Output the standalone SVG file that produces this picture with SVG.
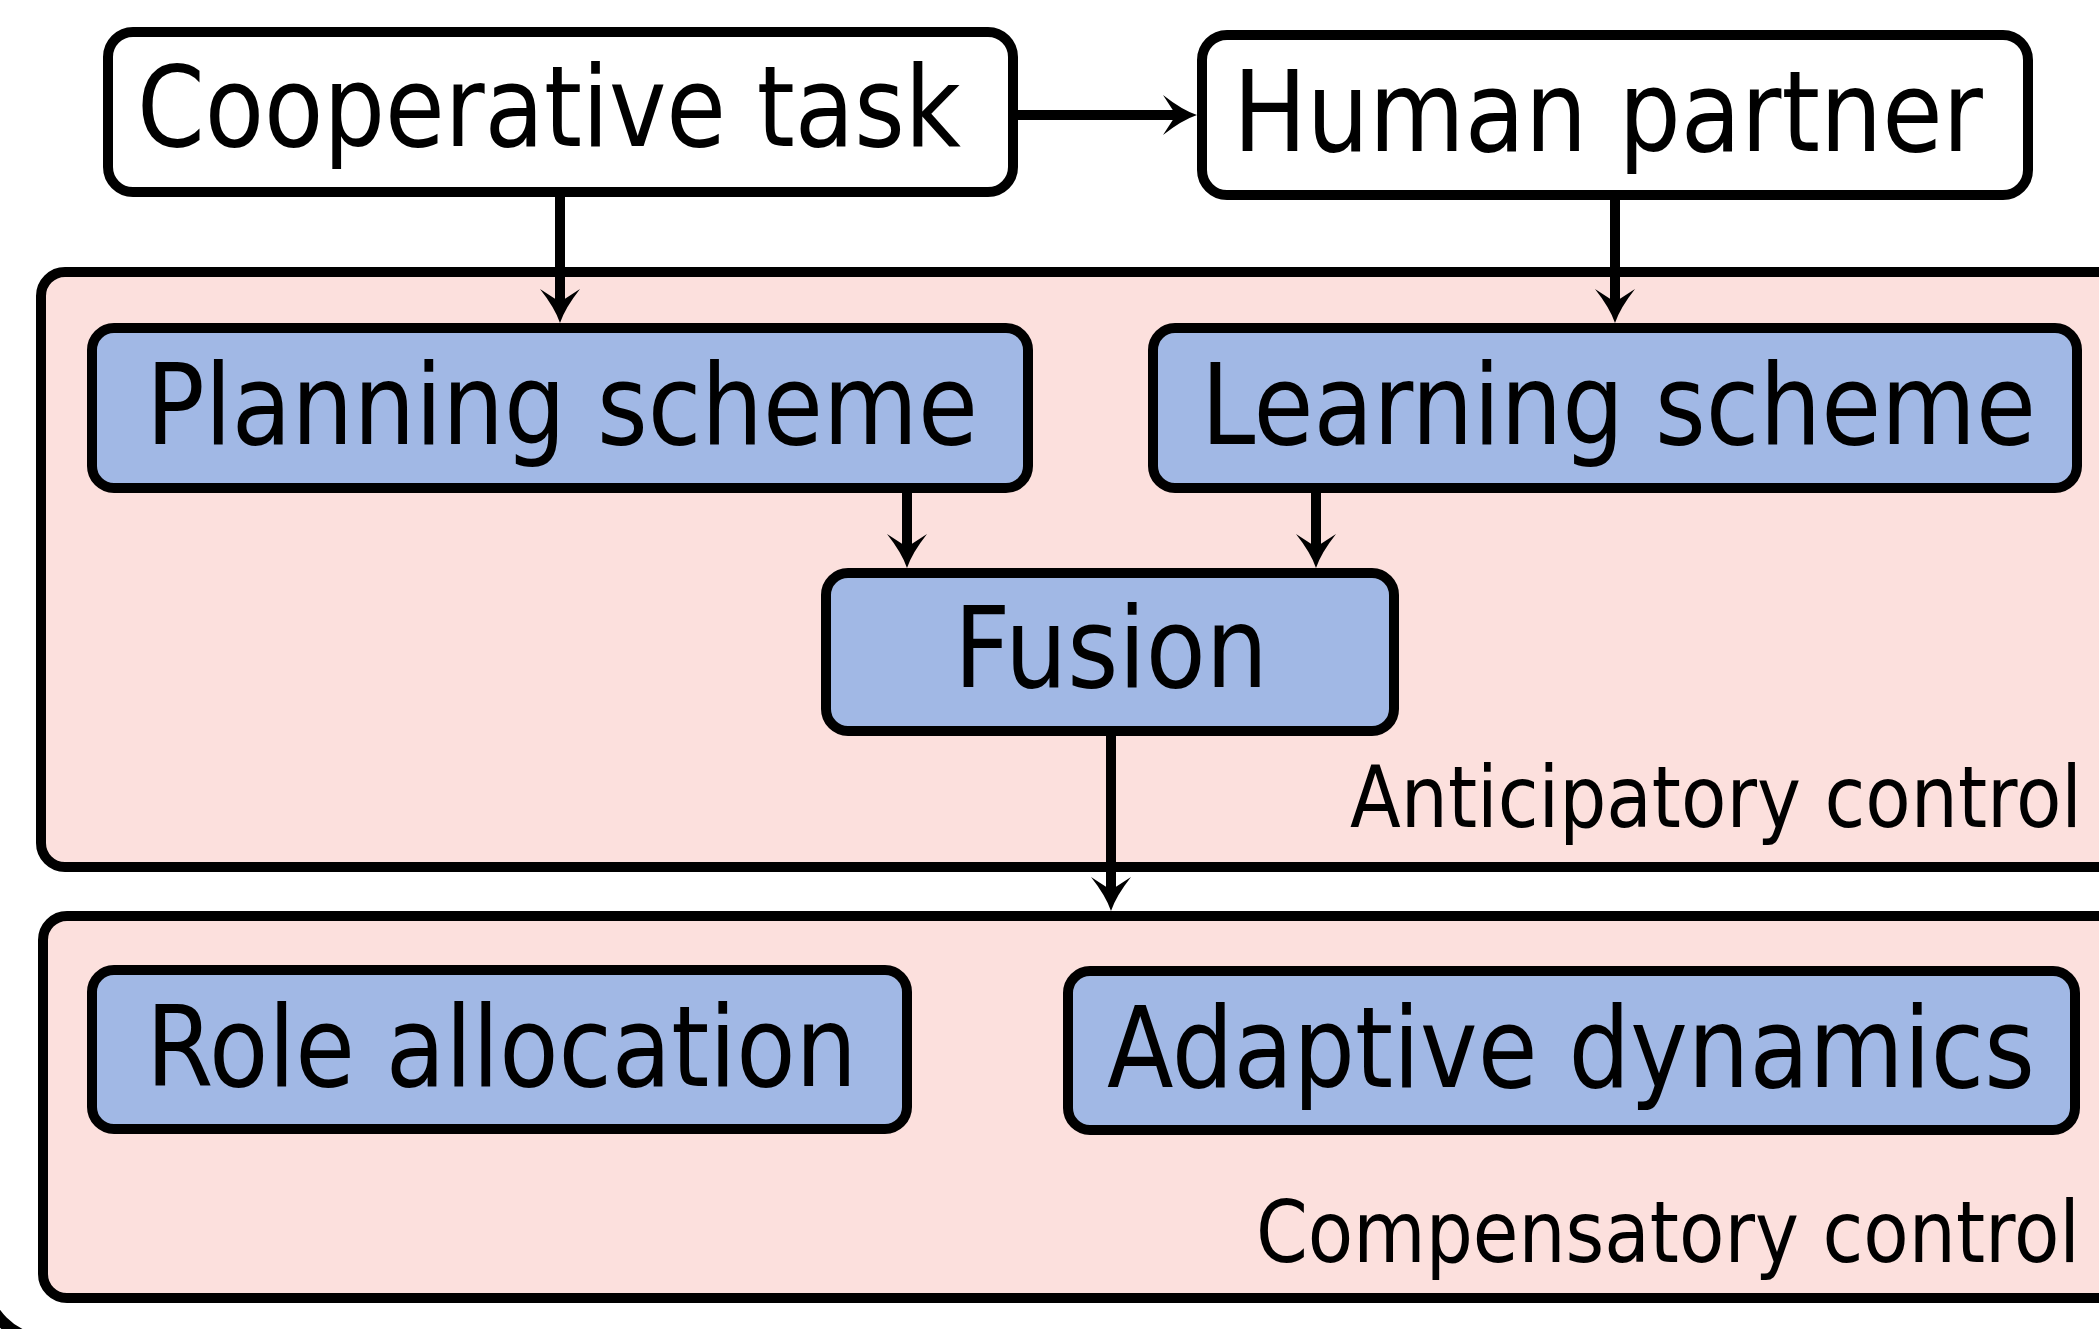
<svg xmlns="http://www.w3.org/2000/svg" width="2099" height="1329" viewBox="0 0 2099 1329">
  <style>
    .box { stroke: #000; stroke-width: 10; }
    .white { fill: #ffffff; }
    .blue { fill: #a1b8e5; }
    .zone { fill: #fce0dd; stroke: #000; stroke-width: 10; }
    .lbl { font-family: "DejaVu Sans", "Liberation Sans", sans-serif; font-size: 112px; fill: #000; }
    .zlbl { font-family: "DejaVu Sans", "Liberation Sans", sans-serif; font-size: 85px; fill: #000; }
    .conn { stroke: #000; stroke-width: 10; fill: none; }
  </style>
  <defs>
    <marker id="arrow" markerUnits="userSpaceOnUse" orient="auto" viewBox="-36 -22 38 44" markerWidth="38" markerHeight="44" refX="-21" refY="0" overflow="visible">
      <path d="M0,0 Q-15,-5 -34,-20 L-21,0 L-34,20 Q-15,5 0,0 Z" fill="#000"/>
    </marker>
  </defs>
  <rect width="2099" height="1329" fill="#ffffff"/>

  <g id="outer-frame">
    <path d="M-17,1000 V1275 A66,66 0 0 0 49,1341 H400" fill="none" stroke="#000" stroke-width="12"/>
  </g>

  <g id="anticipatory-control">
    <rect class="zone" x="41" y="272" width="2120" height="595" rx="24" ry="24"/>
    <text class="zlbl" x="1350" y="827" textLength="732" lengthAdjust="spacingAndGlyphs">Anticipatory control</text>
  </g>

  <g id="compensatory-control">
    <rect class="zone" x="43" y="916" width="2120" height="382" rx="24" ry="24"/>
    <text class="zlbl" x="1256" y="1262" textLength="824" lengthAdjust="spacingAndGlyphs">Compensatory control</text>
  </g>

  <g id="cooperative-task">
    <rect class="box white" x="108" y="32" width="905" height="160" rx="25" ry="25"/>
    <text class="lbl" x="137" y="146" textLength="824" lengthAdjust="spacingAndGlyphs">Cooperative task</text>
  </g>

  <g id="human-partner">
    <rect class="box white" x="1202" y="35" width="826" height="160" rx="25" ry="25"/>
    <text class="lbl" x="1233" y="151" textLength="750" lengthAdjust="spacingAndGlyphs">Human partner</text>
  </g>

  <g id="planning-scheme">
    <rect class="box blue" x="92" y="328" width="936" height="160" rx="22" ry="22"/>
    <text class="lbl" x="146" y="444" textLength="832" lengthAdjust="spacingAndGlyphs">Planning scheme</text>
  </g>

  <g id="learning-scheme">
    <rect class="box blue" x="1153" y="328" width="924" height="160" rx="22" ry="22"/>
    <text class="lbl" x="1201" y="444" textLength="835" lengthAdjust="spacingAndGlyphs">Learning scheme</text>
  </g>

  <g id="fusion">
    <rect class="box blue" x="826" y="573" width="568" height="158" rx="22" ry="22"/>
    <text class="lbl" x="954" y="687" textLength="314" lengthAdjust="spacingAndGlyphs">Fusion</text>
  </g>

  <g id="role-allocation">
    <rect class="box blue" x="92" y="970" width="815" height="159" rx="22" ry="22"/>
    <text class="lbl" x="146" y="1086" textLength="711" lengthAdjust="spacingAndGlyphs">Role allocation</text>
  </g>

  <g id="adaptive-dynamics">
    <rect class="box blue" x="1068" y="971" width="1007" height="159" rx="22" ry="22"/>
    <text class="lbl" x="1107" y="1087" textLength="928" lengthAdjust="spacingAndGlyphs">Adaptive dynamics</text>
  </g>

  <g id="connectors">
    <line class="conn" x1="1018" y1="115" x2="1176" y2="115" marker-end="url(#arrow)"/>
    <line class="conn" x1="560" y1="197" x2="560" y2="302" marker-end="url(#arrow)"/>
    <line class="conn" x1="1615" y1="200" x2="1615" y2="302" marker-end="url(#arrow)"/>
    <line class="conn" x1="907" y1="493" x2="907" y2="547" marker-end="url(#arrow)"/>
    <line class="conn" x1="1316" y1="493" x2="1316" y2="547" marker-end="url(#arrow)"/>
    <line class="conn" x1="1111" y1="736" x2="1111" y2="890" marker-end="url(#arrow)"/>
  </g>
</svg>
